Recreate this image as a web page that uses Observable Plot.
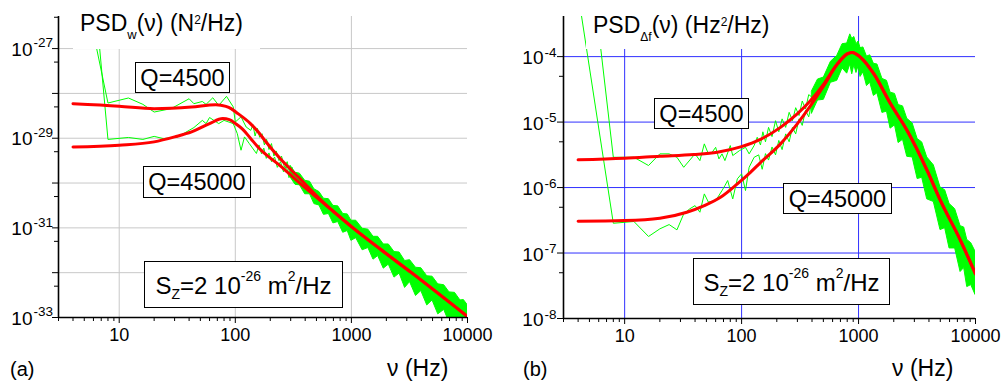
<!DOCTYPE html>
<html><head><meta charset="utf-8">
<script src="https://cdn.jsdelivr.net/npm/d3@7"></script>
<script src="https://cdn.jsdelivr.net/npm/@observablehq/plot@0.6"></script>
<style>
body{margin:0;background:#fff;}
#wrap{position:relative;width:1003px;height:381px;overflow:hidden;background:#fff;font-family:"Liberation Sans",Arial,sans-serif;color:#000;}
#wrap svg{position:absolute;top:0;}
.title{position:absolute;background:#fff;height:33px;top:16px;}
.title .t{position:absolute;left:7px;font-size:23px;line-height:23px;white-space:nowrap;}
.sub{position:relative;font-size:13px;line-height:0;top:8px;}
.sup{position:relative;font-size:12px;line-height:0;top:-7px;}
.box{position:absolute;border:1.3px solid #000;background:#fff;display:flex;align-items:center;justify-content:center;white-space:nowrap;box-sizing:border-box;padding-top:2px;line-height:1;}
.bsub{position:relative;font-size:14px;line-height:0;top:8px;}
.bsup{position:relative;font-size:14px;line-height:0;top:-10px;}
.lbl{position:absolute;white-space:nowrap;line-height:1;}
</style></head>
<body>
<div id="wrap"></div>
<script>
// ---------- shared axis ticks ----------
const xMajor = [10, 100, 1000, 10000];
const xMinor = [3,4,5,6,7,8,9,20,30,40,50,60,70,80,90,200,300,400,500,600,700,800,900,2000,3000,4000,5000,6000,7000,8000,9000];

// ---------- panel (a): PSD_w ----------
const xDomainA = [3, 10000];
const yDomainA = [1e-33, 5.2e-27];
const gridXA = [10, 100, 1000];
const gridYA = [1e-32, 1e-31, 1e-30, 1e-29, 1e-28, 1e-27];
const yDecadesA = [1e-33, 1e-32, 1e-31, 1e-30, 1e-29, 1e-28, 1e-27];
const yHalfA = [5e-33, 5e-32, 5e-31, 5e-30, 5e-29, 5e-28, 5e-27];
const yLabelTicksA = [1e-33, 1e-31, 1e-29, 1e-27];
const yLabelExpA = ["-33", "-31", "-29", "-27"];

// red model curves (a)
const redA1_f = [4, 10, 20, 42, 68, 83, 92, 101, 135, 161, 179, 250, 347, 588, 1000, 1815, 3290, 10000];
const redA1_v = [5.9e-29, 5.2e-29, 4.57e-29, 4.97e-29, 5.6e-29, 5.14e-29, 4.57e-29, 3.84e-29, 2.12e-29, 1.29e-29, 9.0e-30, 3.25e-30, 1.38e-30, 3.5e-31, 1.07e-31, 3.2e-32, 1.0e-32, 1.05e-33];
const redA2_f = [4, 10, 20, 30, 42, 60, 78, 89, 101, 116, 135, 161, 179, 250, 347, 588, 1000, 1815, 3290, 10000];
const redA2_v = [6.4e-30, 7.0e-30, 8.3e-30, 1.07e-29, 1.38e-29, 2.12e-29, 2.74e-29, 2.6e-29, 2.1e-29, 1.58e-29, 1.0e-29, 5.9e-30, 4.57e-30, 2.3e-30, 1.07e-30, 3.4e-31, 1.07e-31, 3.2e-32, 1.0e-32, 1.05e-33];

// green measured traces (a), low-frequency part
const grA1_f = [4, 8, 12, 16, 20, 28, 40, 44, 52, 56, 64, 72, 84, 96, 100, 112, 124, 136, 142, 148, 155, 162, 170, 178, 186, 195, 205, 215, 225, 238, 250, 265, 280, 295, 310];
const grA1_v = [3.5e-25, 6.1e-29, 7.9e-29, 5.7e-29, 3.84e-29, 4.57e-29, 7.6e-29, 5.9e-29, 6.6e-29, 5.7e-29, 8.0e-29, 5.4e-29, 8.6e-29, 5.0e-29, 2.3e-29, 3.0e-29, 1.78e-29, 1.5e-29, 2.0e-29, 1.12e-29, 1.66e-29, 1.05e-29, 1.26e-29, 7.1e-30, 9.5e-30, 5.6e-30, 7.6e-30, 4.0e-30, 5.2e-30, 3.16e-30, 4.0e-30, 2.24e-30, 3.0e-30, 1.58e-30, 2.2e-30];
const grA2_f = [4, 8, 12, 16, 20, 24, 32, 40, 44, 52, 56, 60, 72, 80, 96, 104, 112, 120, 132, 152, 160, 168, 176, 185, 195, 205, 218, 230, 245, 260, 275, 290, 305];
const grA2_v = [3.4e-21, 9.4e-30, 1.04e-29, 9.4e-30, 1.1e-29, 9.8e-30, 1.07e-29, 1.5e-29, 1.73e-29, 2.5e-29, 2.12e-29, 2.9e-29, 2.12e-29, 2.5e-29, 2.12e-29, 1.27e-29, 5.4e-30, 1.07e-29, 7.6e-30, 4.57e-30, 7.1e-30, 4.5e-30, 6.0e-30, 3.55e-30, 4.7e-30, 3.0e-30, 3.8e-30, 2.24e-30, 3.0e-30, 1.78e-30, 2.4e-30, 1.32e-30, 1.82e-30];

// green noise band (a), high-frequency part: log10 of lower / upper edge
const bandA_f = [300,330,360,400,440,480,530,580,640,700,770,850,930,1000,1100,1250,1400,1550,1700,1900,2100,2350,2600,2900,3200,3600,4000,4500,5000,5600,6300,7000,7800,8700,9300,10000];
const bandA_hiExp = [-29.62,-29.77,-29.79,-29.95,-29.97,-30.14,-30.20,-30.35,-30.36,-30.51,-30.52,-30.69,-30.70,-30.84,-30.84,-31.02,-31.04,-31.20,-31.20,-31.37,-31.37,-31.54,-31.55,-31.74,-31.72,-31.89,-31.90,-32.08,-32.09,-32.26,-32.28,-32.44,-32.45,-32.62,-32.61,-32.72];
const bandA_loExp = [-29.88,-30.04,-30.05,-30.25,-30.25,-30.47,-30.50,-30.71,-30.69,-30.90,-30.87,-31.11,-31.07,-31.29,-31.23,-31.50,-31.45,-31.71,-31.63,-31.91,-31.82,-32.11,-32.02,-32.34,-32.21,-32.52,-32.41,-32.73,-32.62,-32.93,-32.83,-33.12,-33.02,-33.31,-33.19,-33.37];

// ---------- panel (b): PSD_Δf ----------
const xDomainB = [3, 10000];
const yDomainB = [1e-8, 4.1e-4];
const gridXB = [10, 100, 1000];
const gridYB = [1e-7, 1e-6, 1e-5, 1e-4];
const yDecadesB = [1e-8, 1e-7, 1e-6, 1e-5, 1e-4];
const yHalfB = [5e-8, 5e-7, 5e-6, 5e-5];
const yLabelTicksB = [1e-8, 1e-7, 1e-6, 1e-5, 1e-4];
const yLabelExpB = ["-8", "-7", "-6", "-5", "-4"];

const redB1_f = [4, 10, 20, 39, 62, 98, 145, 215, 299, 389, 505, 657, 800, 883, 1040, 1352, 1878, 2608, 3865, 5020, 7450, 10000];
const redB1_v = [2.65e-6, 2.8e-6, 3.0e-6, 3.19e-6, 3.46e-6, 4.18e-6, 5.44e-6, 8.3e-6, 1.33e-5, 2.13e-5, 3.83e-5, 7.7e-5, 1.10e-4, 1.16e-4, 9.75e-5, 5.44e-5, 1.9e-5, 7.4e-6, 1.82e-6, 6.3e-7, 1.55e-7, 4.8e-8];
const redB2_f = [4, 10, 20, 34, 48, 66, 92, 119, 145, 215, 299, 389, 505, 657, 800, 883, 1040, 1352, 1878, 2608, 3865, 5020, 7450, 10000];
const redB2_v = [3.05e-7, 3.13e-7, 3.4e-7, 4.2e-7, 5.3e-7, 7.1e-7, 1.14e-6, 1.71e-6, 2.41e-6, 4.65e-6, 9.4e-6, 1.79e-5, 3.6e-5, 7.6e-5, 1.10e-4, 1.16e-4, 9.75e-5, 5.44e-5, 1.9e-5, 7.4e-6, 1.82e-6, 6.3e-7, 1.55e-7, 4.8e-8];

const grB1_f = [4, 8, 12, 16, 20, 24, 28, 32, 40, 44, 48, 52, 56, 60, 64, 68, 72, 80, 84, 96, 108, 116, 128, 136, 145, 152, 160, 170, 182, 195, 208, 222, 238, 255, 272, 290, 310, 330, 352, 375, 400];
const grB1_v = [0.13, 2.9e-6, 2.9e-6, 2.17e-6, 3.27e-6, 3.27e-6, 2.9e-6, 2.04e-6, 3.27e-6, 2.58e-6, 4.65e-6, 3.27e-6, 3.46e-6, 4.12e-6, 2.74e-6, 3.27e-6, 2.58e-6, 4.38e-6, 3.08e-6, 3.67e-6, 4.12e-6, 3.27e-6, 4.38e-6, 5.86e-6, 4.47e-6, 7.1e-6, 5.0e-6, 8.3e-6, 6.0e-6, 1.05e-5, 7.1e-6, 1.12e-5, 8.3e-6, 1.41e-5, 1.05e-5, 1.66e-5, 1.26e-5, 2.1e-5, 1.58e-5, 2.63e-5, 2.4e-5];
const grB2_f = [4, 8, 12, 16, 20, 24, 28, 32, 36, 40, 44, 48, 52, 60, 68, 72, 76, 84, 92, 100, 108, 116, 128, 140, 150, 160, 170, 182, 195, 208, 222, 238, 255, 272, 290, 310, 330, 352, 375, 400];
const grB2_v = [9.1e-4, 2.85e-7, 3.03e-7, 1.79e-7, 2.34e-7, 2.72e-7, 2.26e-7, 3.96e-7, 4.73e-7, 5.3e-7, 4.2e-7, 8.0e-7, 6.0e-7, 6.3e-7, 9.0e-7, 1.07e-6, 1.28e-6, 6.7e-7, 1.36e-6, 1.62e-6, 9.0e-7, 2.04e-6, 2.9e-6, 3.16e-6, 1.9e-6, 3.3e-6, 2.63e-6, 4.17e-6, 3.16e-6, 5.25e-6, 3.8e-6, 6.6e-6, 5.0e-6, 8.3e-6, 6.6e-6, 1.12e-5, 8.9e-6, 1.51e-5, 1.2e-5, 2.1e-5];

const bandB_f = [400,450,505,580,657,730,800,850,883,920,960,1000,1040,1100,1180,1260,1352,1450,1600,1750,1878,2050,2200,2400,2608,2900,3200,3500,3865,4400,5020,5500,6000,6700,7450,8000,8500,9200,10000];
const bandB_hiExp = [-4.53,-4.35,-4.32,-4.08,-3.99,-3.81,-3.80,-3.66,-3.73,-3.70,-3.81,-3.77,-3.87,-3.86,-4.00,-3.98,-4.11,-4.12,-4.34,-4.37,-4.55,-4.57,-4.74,-4.76,-4.95,-5.02,-5.26,-5.31,-5.54,-5.66,-6.00,-6.04,-6.25,-6.33,-6.59,-6.61,-6.80,-6.85,-6.98];
const bandB_loExp = [-4.87,-4.67,-4.66,-4.40,-4.37,-4.18,-4.26,-4.12,-4.27,-4.13,-4.25,-4.15,-4.31,-4.24,-4.45,-4.40,-4.60,-4.56,-4.86,-4.84,-5.10,-5.05,-5.32,-5.27,-5.53,-5.54,-5.87,-5.85,-6.18,-6.22,-6.65,-6.62,-6.93,-6.93,-7.29,-7.23,-7.52,-7.49,-7.64];

// ---------- drawing ----------
const GREEN = "#00ff00", RED = "#ff0000";
const pts = (fs, vs) => fs.map((f, i) => ({f, v: vs[i]}));

function panel(o) {
  const band = o.bandF.map((f, i) => ({f, lo: 10 ** o.bandLo[i], hi: 10 ** o.bandHi[i]}));
  return Plot.plot({
    width: o.width, height: 381,
    marginLeft: o.ml, marginRight: o.mr, marginTop: 16, marginBottom: o.mb,
    x: {type: "log", domain: o.xDomain, axis: null},
    y: {type: "log", domain: o.yDomain, axis: null},
    style: {fontFamily: '"Liberation Sans", Arial, sans-serif', background: "transparent", color: "#000", overflow: "visible"},
    marks: [
      Plot.ruleX(o.gridX, {stroke: o.gridColor, strokeWidth: 1}),
      Plot.ruleY(o.gridY, {stroke: o.gridColor, strokeWidth: 1}),
      Plot.areaY(band, {x: "f", y1: "lo", y2: "hi", fill: GREEN, stroke: GREEN, strokeWidth: 1, clip: true}),
      Plot.line(pts(o.g1f, o.g1v), {x: "f", y: "v", stroke: GREEN, strokeWidth: 1, clip: true}),
      Plot.line(pts(o.g2f, o.g2v), {x: "f", y: "v", stroke: GREEN, strokeWidth: 1, clip: true}),
      Plot.line(pts(o.r1f, o.r1v), {x: "f", y: "v", stroke: RED, strokeWidth: 3, curve: "monotone-x", clip: true}),
      Plot.line(pts(o.r2f, o.r2v), {x: "f", y: "v", stroke: RED, strokeWidth: 3, curve: "monotone-x", clip: true}),
      Plot.ruleX([o.xDomain[0]], {stroke: "#000", strokeWidth: 1.6}),
      Plot.ruleY([o.yDomain[0]], {stroke: "#000", strokeWidth: 1.6}),
      Plot.axisX({ticks: xMajor, tickSize: 6, tickPadding: 5, tickFormat: d3.format("d"), fontSize: 18, label: null, anchor: "bottom"}),
      Plot.axisX({ticks: xMinor, tickSize: 4, tickFormat: () => "", label: null, anchor: "bottom"}),
      Plot.axisY({ticks: o.yDecades, tickSize: 6, tickFormat: () => "", label: null, anchor: "left"}),
      Plot.axisY({ticks: o.yHalf, tickSize: 4, tickFormat: () => "", label: null, anchor: "left"}),
      Plot.text(o.yLabelTicks, {y: d => d, frameAnchor: "left", text: () => "10", textAnchor: "end", dx: o.baseDx, dy: o.baseDy, fontSize: 19}),
      Plot.text(o.yLabelTicks, {y: d => d, frameAnchor: "left", text: (d, i) => o.yLabelExp[i], textAnchor: "start", dx: o.expDx, dy: o.expDy, fontSize: 13.5})
    ]
  });
}

const wrap = document.getElementById("wrap");
const svgA = panel({
  width: 500, ml: 58, mr: 33, mb: 64,
  xDomain: xDomainA, yDomain: yDomainA, gridX: gridXA, gridY: gridYA, gridColor: "#c8c8c8",
  yDecades: yDecadesA, yHalf: yHalfA, yLabelTicks: yLabelTicksA, yLabelExp: yLabelExpA,
  baseDx: -26, baseDy: 1, expDx: -25, expDy: -5.5,
  bandF: bandA_f, bandLo: bandA_loExp, bandHi: bandA_hiExp,
  g1f: grA1_f, g1v: grA1_v, g2f: grA2_f, g2v: grA2_v,
  r1f: redA1_f, r1v: redA1_v, r2f: redA2_f, r2v: redA2_v
});
svgA.style.left = "0px";
wrap.appendChild(svgA);

const svgB = panel({
  width: 503, ml: 63, mr: 28, mb: 63,
  xDomain: xDomainB, yDomain: yDomainB, gridX: gridXB, gridY: gridYB, gridColor: "#3030ff",
  yDecades: yDecadesB, yHalf: yHalfB, yLabelTicks: yLabelTicksB, yLabelExp: yLabelExpB,
  baseDx: -20, baseDy: 1.5, expDx: -19, expDy: -4,
  bandF: bandB_f, bandLo: bandB_loExp, bandHi: bandB_hiExp,
  g1f: grB1_f, g1v: grB1_v, g2f: grB2_f, g2v: grB2_v,
  r1f: redB1_f, r1v: redB1_v, r2f: redB2_f, r2v: redB2_v
});
svgB.style.left = "500px";
wrap.appendChild(svgB);

// ---------- text overlays ----------
wrap.insertAdjacentHTML("beforeend", `
<div class="title" style="left:73px;width:187px;"><span class="t" style="top:-4px;">PSD<span class="sub">w</span>(ν) (N<span class="sup">2</span>/Hz)</span></div>
<div class="title" style="left:586px;width:202px;"><span class="t" style="top:-2px;">PSD<span class="sub" style="font-size:12px">Δf</span>(ν) (Hz<span class="sup">2</span>/Hz)</span></div>
<div class="box" style="left:135px;top:62px;width:95px;height:31px;font-size:23.5px;">Q=4500</div>
<div class="box" style="left:143px;top:166px;width:108px;height:32px;font-size:23.5px;">Q=45000</div>
<div class="box" style="left:144px;top:261px;width:199px;height:47px;font-size:24px;">S<span class="bsub">Z</span>=2 10<span class="bsup">-26</span>&nbsp;m<span class="bsup">2</span>/Hz</div>
<div class="box" style="left:654px;top:98px;width:95px;height:31px;font-size:23.5px;">Q=4500</div>
<div class="box" style="left:783px;top:183px;width:109px;height:31px;font-size:23.5px;">Q=45000</div>
<div class="box" style="left:693px;top:258px;width:197px;height:47px;font-size:24px;">S<span class="bsub">Z</span>=2 10<span class="bsup">-26</span>&nbsp;m<span class="bsup">2</span>/Hz</div>
<div class="lbl" style="left:10px;top:359px;font-size:20px;">(a)</div>
<div class="lbl" style="left:523px;top:359px;font-size:20px;">(b)</div>
<div class="lbl" style="left:387px;top:357px;font-size:23px;">ν (Hz)</div>
<div class="lbl" style="left:892px;top:357px;font-size:23px;">ν (Hz)</div>
`);
</script>
</body></html>
